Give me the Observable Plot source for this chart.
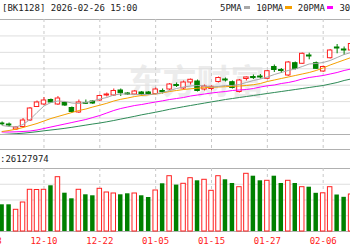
<!DOCTYPE html>
<html><head><meta charset="utf-8">
<script src="https://cdn.jsdelivr.net/npm/d3@7"></script>
<script src="https://cdn.jsdelivr.net/npm/@observablehq/plot@0.6"></script>
<style>
body{margin:0;background:#fff;}
#c{position:relative;width:350px;height:250px;overflow:hidden;background:#fff;font-family:"DejaVu Sans Mono",monospace;font-size:9px;line-height:9px;color:#222;}
#hdr{position:absolute;left:2px;top:4px;white-space:nowrap;}
#leg{position:absolute;left:220px;top:4px;white-space:nowrap;}
#leg .sw{display:inline-block;width:6.5px;height:3px;margin:0 6px 2px 2px;vertical-align:middle;}
#p1{position:absolute;left:0;top:0;}
#box{position:absolute;left:0;top:149px;width:350px;height:1px;background:#b0b0b0;}
#volh{position:absolute;left:0;top:155px;white-space:nowrap;}
#p2{position:absolute;left:0;top:150px;}
</style></head>
<body>
<div id="c">
  <div id="hdr">[BK1128] 2026-02-26 15:00</div>
  <div id="leg"></div>
  <div id="p1"></div>
  <div id="box"></div>
  <div id="volh">:26127974</div>
  <div id="p2"></div>
</div>
<script>
const preDates = ["11-28","12-01"];
const dates = ["12-02","12-03","12-04","12-05","12-08","12-09","12-10","12-11","12-12","12-15","12-16","12-17","12-18","12-19","12-22","12-23","12-24","12-25","12-26","12-29","12-30","12-31","01-05","01-06","01-07","01-08","01-09","01-12","01-13","01-14","01-15","01-16","01-19","01-20","01-21","01-22","01-23","01-26","01-27","01-28","01-29","01-30","02-02","02-03","02-04","02-05","02-06","02-09","02-10","02-11","02-12"];
const open  = [1067.0,1060.9,1030.4,1045.7,1085.2,1167.4,1182.6,1210.0,1182.6,1191.7,1161.3,1133.9,1191.7,1200.9,1207.0,1237.4,1237.4,1267.8,1249.6,1243.5,1255.7,1255.7,1246.5,1264.8,1273.9,1301.3,1280.0,1316.5,1322.6,1273.9,1277.0,1319.6,1334.8,1318.3,1258.7,1337.8,1350.0,1353.0,1339.0,1410.9,1392.6,1359.1,1434.0,1430.4,1480.9,1434.0,1383.5,1464.4,1529.6,1517.4,1511.3];
const close = [1062.1,1054.8,1042.6,1085.2,1158.3,1194.8,1207.0,1194.8,1219.1,1176.5,1137.0,1194.8,1186.9,1188.7,1234.3,1243.5,1264.8,1251.4,1243.5,1261.7,1240.4,1246.5,1273.9,1258.7,1304.4,1295.2,1316.5,1333.0,1264.8,1292.2,1290.3,1343.9,1328.7,1283.0,1328.7,1347.0,1343.9,1347.0,1385.3,1392.6,1386.5,1438.3,1399.9,1491.2,1474.8,1399.9,1410.9,1511.3,1523.5,1511.3,1550.9];
const high  = [1076.1,1070.0,1048.7,1097.4,1164.3,1203.9,1225.2,1216.1,1231.3,1197.8,1167.4,1210.0,1210.0,1207.0,1240.4,1252.6,1277.0,1277.0,1255.7,1267.8,1261.7,1261.7,1283.0,1277.0,1310.4,1313.5,1325.7,1337.8,1331.7,1301.3,1295.2,1350.0,1343.9,1325.7,1334.8,1350.0,1362.2,1365.2,1389.6,1423.1,1401.7,1444.4,1441.3,1496.1,1494.9,1441.3,1417.0,1517.4,1547.8,1532.6,1553.9];
const low   = [1054.8,1042.6,1024.3,1039.6,1079.1,1164.3,1176.5,1188.7,1176.5,1170.4,1127.8,1127.8,1183.8,1182.6,1200.9,1228.3,1231.3,1231.3,1237.4,1237.4,1234.3,1237.4,1240.4,1246.5,1267.8,1286.1,1270.9,1301.3,1258.7,1264.8,1264.8,1313.5,1319.6,1277.0,1252.6,1325.7,1334.8,1337.8,1334.8,1377.4,1371.3,1353.0,1392.6,1426.1,1454.7,1395.7,1377.4,1459.6,1491.2,1480.9,1505.2];
const volume = [16950000,16950000,13780000,18410000,26480000,26350000,26480000,29020000,34480000,24320000,20760000,26480000,23300000,22670000,27110000,24760000,24130000,23300000,23940000,24130000,22670000,21590000,26030000,30290000,35110000,29460000,30290000,33840000,32190000,32830000,25840000,35110000,32830000,30480000,28130000,36630000,35110000,32190000,32190000,35110000,30480000,32190000,30480000,28130000,28130000,24250000,24250000,28130000,23170000,21710000,23490000];
const ma5  = [1054.8,1048.7,1045.7,1060.9,1091.3,1133.9,1173.5,1194.8,1203.9,1200.9,1191.7,1188.7,1194.8,1203.9,1216.1,1225.2,1240.4,1246.5,1246.5,1243.5,1243.5,1243.5,1246.5,1255.7,1267.8,1280.0,1289.1,1295.2,1298.3,1295.2,1289.1,1292.2,1298.3,1298.3,1304.4,1316.5,1328.7,1337.8,1350.0,1365.2,1377.4,1389.6,1398.7,1413.9,1429.2,1432.2,1438.3,1450.4,1468.7,1487.0,1499.1];
const ma10 = [1018.3,1024.3,1032.3,1042.6,1054.8,1067.0,1082.2,1097.4,1109.6,1121.7,1133.9,1146.1,1155.2,1167.4,1178.4,1189.9,1203.9,1214.3,1222.2,1231.3,1237.4,1241.7,1246.5,1253.8,1261.7,1267.8,1273.9,1278.2,1281.8,1284.9,1287.3,1289.1,1290.9,1293.4,1295.2,1298.3,1303.1,1310.4,1322.6,1331.7,1340.9,1350.0,1359.1,1368.3,1377.4,1389.6,1404.8,1423.1,1438.3,1453.5,1468.7];
const ma20 = [1015.2,1015.2,1016.4,1018.3,1021.3,1027.4,1036.5,1045.7,1054.8,1063.9,1073.0,1082.2,1091.3,1103.5,1115.7,1130.9,1146.1,1158.3,1167.4,1176.5,1182.6,1190.5,1197.8,1205.1,1213.0,1219.1,1225.2,1234.3,1240.4,1246.5,1252.6,1257.5,1261.7,1267.8,1270.9,1273.9,1280.0,1289.1,1296.4,1301.3,1310.4,1316.5,1325.7,1337.8,1347.0,1353.0,1359.1,1368.3,1377.4,1389.6,1398.7];
const ma30 = [1000.0,1002.4,1004.9,1007.9,1012.2,1017.0,1022.5,1027.4,1032.3,1037.7,1043.8,1050.5,1057.2,1063.9,1070.0,1077.3,1085.2,1093.7,1102.3,1110.8,1119.9,1127.8,1135.7,1144.3,1153.4,1161.3,1169.2,1176.5,1183.8,1191.2,1198.4,1205.7,1213.0,1219.1,1225.2,1231.3,1237.4,1243.5,1249.6,1255.7,1261.7,1267.8,1273.9,1280.0,1286.1,1292.2,1298.3,1307.4,1316.5,1328.7,1337.8];
const tickLabels = ["11-28","12-10","12-22","01-05","01-15","01-27","02-06"];
const priceGrid = [1100,1200,1300,1400,1500,1600];
const priceFrame = [1000,1700];
const volGrid = [10000000,20000000,30000000];
const volFrame = [0,40000000];
const maNames = ["5PMA","10PMA","20PMA","30PMA"];
const maColors = ["#a8a8a8","#f5a000","#ff00ff","#2e8b57"];

const RED = "#ff2020", GREEN = "#008000";
const allDates = preDates.concat(dates);
const pos = d => allDates.indexOf(d);
const bars = dates.map((d, i) => ({d, x: pos(d), o: open[i], c: close[i], h: high[i], l: low[i], v: volume[i], up: close[i] >= open[i]}));
const upBars = bars.filter(b => b.up), dnBars = bars.filter(b => !b.up);
const ticks = tickLabels.map(t => ({t, x: pos(t)}));
const maSeries = [ma30, ma20, ma10, ma5];
const maCol = [maColors[3], maColors[2], maColors[1], maColors[0]];
const hw = 0.32;
const xScale = {domain: [0, allDates.length - 1], range: [-12.36, 350.6], axis: null};

// legend
const leg = document.getElementById("leg");
maNames.forEach((n, k) => {
  const s = document.createElement("span"); s.textContent = n; leg.appendChild(s);
  const w = document.createElement("span"); w.className = "sw"; w.style.background = maColors[k]; leg.appendChild(w);
});

const price = Plot.plot({
  width: 350, height: 150, marginTop: 19, marginBottom: 16, marginLeft: 0, marginRight: 0,
  x: xScale, y: {domain: [1000, 1700], axis: null},
  style: {background: "transparent", overflow: "hidden", fontFamily: "DejaVu Sans Mono", fontSize: "9px"},
  marks: [
    Plot.text(["东方财富"], {text: d => d, frameAnchor: "middle", dx: 21, dy: 6, fontSize: 34, fontWeight: 700, fontFamily: "Noto Sans CJK SC", fill: "#ececec"}),
    Plot.ruleY(priceGrid, {stroke: "#dedede"}),
    Plot.ruleY(priceFrame, {stroke: "#b0b0b0"}),
    Plot.ruleX(ticks, {x: "x", y1: 1700, y2: 908, stroke: "#c8c8c8", strokeDasharray: "3,3"}),
    Plot.ruleX(upBars, {x: "x", y1: "l", y2: "h", stroke: RED}),
    Plot.ruleX(dnBars, {x: "x", y1: "l", y2: "h", stroke: GREEN}),
    Plot.rect(upBars, {x1: b => b.x - hw, x2: b => b.x + hw, y1: "o", y2: "c", fill: "#fff", stroke: RED}),
    Plot.rect(dnBars, {x1: b => b.x - hw, x2: b => b.x + hw, y1: "o", y2: "c", fill: GREEN, stroke: GREEN}),
    ...maSeries.map((s, k) => Plot.line(bars, {x: "x", y: (b, i) => s[i], stroke: maCol[k], strokeWidth: 1, clip: true}))
  ]
});
document.getElementById("p1").appendChild(price);

const vol = Plot.plot({
  width: 350, height: 100, marginTop: 18, marginBottom: 19, marginLeft: 0, marginRight: 0,
  x: xScale, y: {domain: [0, 40000000], axis: null},
  style: {background: "transparent", overflow: "hidden", fontFamily: "DejaVu Sans Mono", fontSize: "9px"},
  marks: [
    Plot.ruleY(volGrid, {stroke: "#dedede"}),
    Plot.ruleY(volFrame, {stroke: "#b0b0b0"}),
    Plot.ruleX(ticks, {x: "x", y1: 0, y2: 40000000, stroke: "#c8c8c8", strokeDasharray: "3,3"}),
    Plot.rect(upBars, {x1: b => b.x - hw, x2: b => b.x + hw, y1: 0, y2: "v", fill: "#fff", stroke: RED}),
    Plot.rect(dnBars, {x1: b => b.x - hw, x2: b => b.x + hw, y1: 0, y2: "v", fill: GREEN}),
    Plot.text(ticks, {x: "x", y: 0, dy: 10, text: "t", fill: RED, fontSize: 9})
  ]
});
document.getElementById("p2").appendChild(vol);
</script>
</body></html>
